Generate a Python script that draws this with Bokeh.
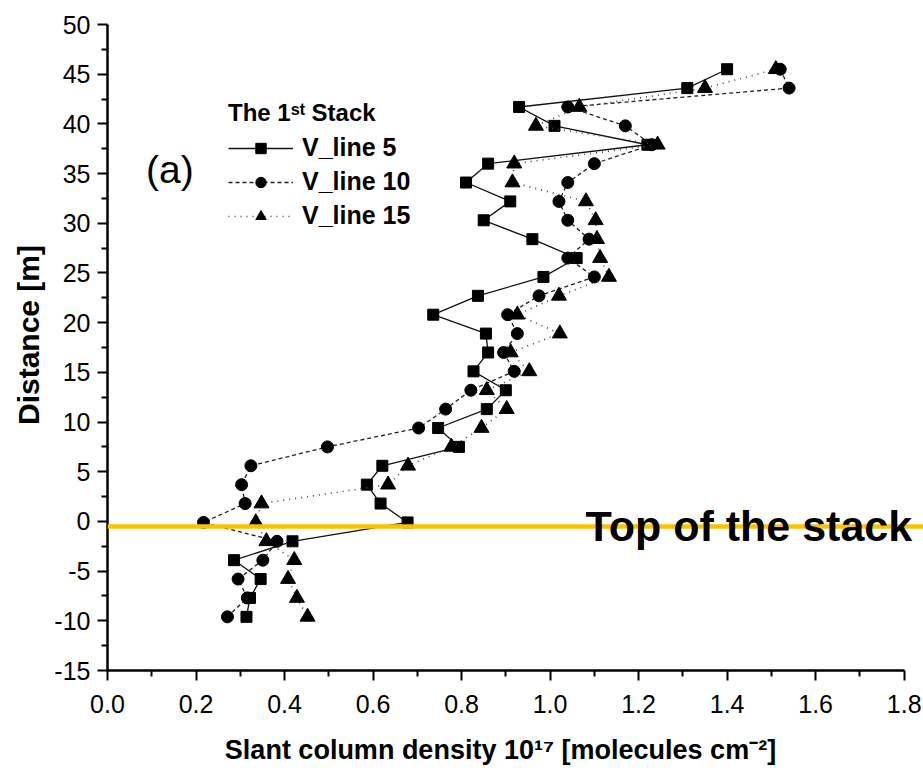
from bokeh.plotting import figure
from bokeh.models import (Range1d, FixedTicker, Span, Label, Legend, LegendItem,
                          NumeralTickFormatter)
from bokeh.embed import file_html
from bokeh.resources import INLINE

# ---- data ----
distance = [45.5, 43.6, 41.7, 39.8, 37.9, 36.0, 34.1, 32.2, 30.3, 28.4,
            26.5, 24.6, 22.7, 20.8, 18.9, 17.0, 15.1, 13.2, 11.3, 9.4,
            7.5, 5.6, 3.7, 1.8, -0.1, -2.0, -3.9, -5.8, -7.7, -9.6]
v_line_5 = [1.40, 1.31, 0.93, 1.01, 1.22, 0.86, 0.81, 0.91, 0.85, 0.96,
            1.06, 0.985, 0.837, 0.736, 0.855, 0.86, 0.827, 0.90, 0.857, 0.747,
            0.794, 0.621, 0.586, 0.617, 0.678, 0.418, 0.286, 0.346, 0.322, 0.314]
v_line_10 = [1.52, 1.54, 1.04, 1.17, 1.23, 1.10, 1.04, 1.02, 1.04, 1.088,
             1.04, 1.10, 0.975, 0.904, 0.926, 0.895, 0.919, 0.821, 0.764, 0.703,
             0.497, 0.324, 0.303, 0.311, 0.217, 0.383, 0.351, 0.295, 0.316, 0.271]
v_line_15 = [1.51, 1.35, 1.066, 0.968, 1.243, 0.919, 0.915, 1.081, 1.103, 1.106,
             1.113, 1.133, 1.02, 0.926, 1.022, 0.911, 0.953, 0.857, 0.902, 0.845,
             0.777, 0.679, 0.634, 0.348, 0.335, 0.359, 0.422, 0.408, 0.428, 0.452]
series_names = ["V_line 5", "V_line 10", "V_line 15"]
legend_title = "The 1\u02e2\u1d57 Stack"
x_ticks = [0.0, 0.2, 0.4, 0.6, 0.8, 1.0, 1.2, 1.4, 1.6, 1.8]
x_minor = [0.1, 0.3, 0.5, 0.7, 0.9, 1.1, 1.3, 1.5, 1.7]
y_ticks = [-15, -10, -5, 0, 5, 10, 15, 20, 25, 30, 35, 40, 45, 50]
y_minor = [-12.5, -7.5, -2.5, 2.5, 7.5, 12.5, 17.5, 22.5, 27.5, 32.5, 37.5, 42.5, 47.5]
stack_top = -0.5
x_title = "Slant column density 10\u00b9\u2077 [molecules cm\u207b\u00b2]"
y_title = "Distance [m]"

FONT = "Liberation Sans"
NBSP = "\u00a0"

p = figure(width=923, height=774, output_backend="svg", toolbar_location=None,
           x_range=Range1d(0, 1.8437), y_range=Range1d(-15, 50),
           min_border_left=107, min_border_right=0, min_border_top=24,
           min_border_bottom=104, background_fill_color="white",
           border_fill_color="white")
p.outline_line_color = None
p.xgrid.visible = False
p.ygrid.visible = False

for ax in (p.xaxis[0], p.yaxis[0]):
    ax.axis_line_width = 2.5
    ax.axis_line_color = "black"
    ax.major_tick_line_width = 2
    ax.minor_tick_line_width = 2
    ax.major_tick_out = 10
    ax.major_tick_in = 0
    ax.minor_tick_out = 6
    ax.minor_tick_in = 0
    ax.major_label_text_font = FONT
    ax.major_label_text_font_size = "25px"
    ax.major_label_text_color = "black"
    ax.axis_label_text_font = FONT
    ax.axis_label_text_font_style = "bold"
    ax.axis_label_text_color = "black"

xa = p.xaxis[0]
xa.ticker = FixedTicker(ticks=x_ticks, minor_ticks=x_minor)
xa.formatter = NumeralTickFormatter(format="0.0")
xa.bounds = (0, 1.8)
xa.major_label_standoff = 14
# trailing no-break spaces shift the centred title left, as in the original
xa.axis_label = x_title + NBSP * 4
xa.axis_label_text_font_size = "27px"
xa.axis_label_standoff = 19

ya = p.yaxis[0]
ya.ticker = FixedTicker(ticks=y_ticks, minor_ticks=y_minor)
ya.formatter = NumeralTickFormatter(format="0")
ya.bounds = (-15, 50)
ya.major_label_standoff = 7
ya.axis_label = NBSP * 3 + y_title
ya.axis_label_text_font_size = "30px"
ya.axis_label_standoff = 6

# series
line_styles = [("solid", 1.3, "#111111"), ("4 3", 1.3, "#222222"), ("1 5", 1.6, "#444444")]
markers = [("square", 11), ("circle", 12), ("triangle", 15)]
items = []
for vals, name, (dash, lw, lc), (mk, ms) in zip([v_line_5, v_line_10, v_line_15],
                                               series_names, line_styles, markers):
    rl = p.line(vals, distance, line_color=lc, line_width=lw, line_dash=dash)
    rm = p.scatter(vals, distance, marker=mk, size=ms, fill_color="black",
                   line_color="black")
    items.append(LegendItem(label=name, renderers=[rl, rm]))

# stack top line
p.add_layout(Span(location=stack_top, dimension="width", line_color="#FFC000",
                  line_width=4.5))

legend = Legend(items=items, title=legend_title, location=(121, 440),
                title_text_font=FONT, title_text_font_style="bold",
                title_text_font_size="24px", title_standoff=6,
                title_text_color="black",
                label_text_font=FONT, label_text_font_style="bold",
                label_text_font_size="25px", label_standoff=9,
                label_text_color="black",
                glyph_width=65, glyph_height=26, spacing=5, padding=0,
                margin=0, border_line_color=None, background_fill_alpha=0)
p.add_layout(legend)

p.add_layout(Label(x=0.141, y=35.4, text="(a)", text_font=FONT,
                   text_font_size="39px", text_align="center",
                   text_baseline="middle", text_color="black"))
p.add_layout(Label(x=1.818, y=stack_top, text="Top of the stack", text_font=FONT,
                   text_font_size="43px", text_font_style="bold",
                   text_align="right", text_baseline="middle",
                   text_color="black"))

open("out.html", "w").write(file_html(p, INLINE))
